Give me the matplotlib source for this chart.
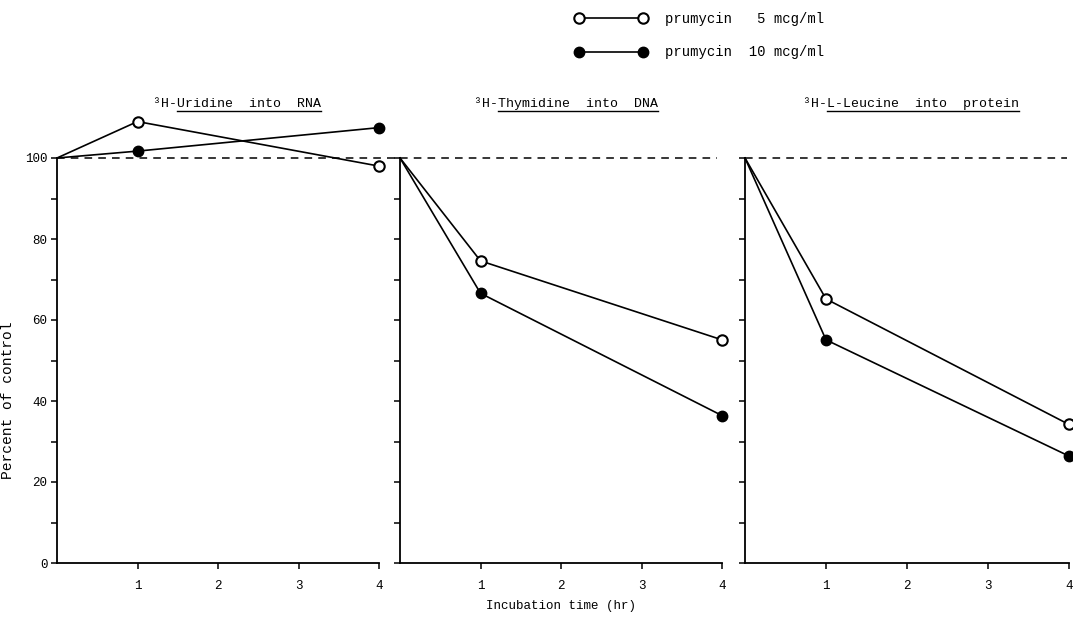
import matplotlib
matplotlib.use("Agg")
import matplotlib.pyplot as plt
from matplotlib.lines import Line2D

plt.rcParams['font.family'] = ['Liberation Mono', 'DejaVu Sans Mono']

# Data (percent of control)
hours = [0, 1, 4]
panel_prefix = ["³H-", "³H-", "³H-"]
panel_names = ["Uridine  into  RNA", "Thymidine  into  DNA", "L-Leucine  into  protein"]
low_dose = [  # prumycin 5 mcg/ml
    [100, 109, 98],
    [100, 74.6, 55.1],
    [100, 65.2, 34.2],
]
high_dose = [  # prumycin 10 mcg/ml
    [100, 101.7, 107.5],
    [100, 66.6, 36.4],
    [100, 55.1, 26.4],
]
legend_labels = ["prumycin   5 mcg/ml", "prumycin  10 mcg/ml"]
x_ticks = [1, 2, 3, 4]
y_ticks = [0, 20, 40, 60, 80, 100]
y_minor = [10, 30, 50, 70, 90]

W, H = 1073, 621
fig = plt.figure(figsize=(W / 100, H / 100), dpi=100)

lefts = [57, 400, 745]
widths = [322, 322, 324]
bottom = 1 - 563 / H
height = 115 * 4.05 / H
title_x = [2.24, 2.06, 2.05]
dash_end = [4.24, 3.94, 3.98]

axes = []
for i in range(3):
    ax = fig.add_axes([lefts[i] / W, bottom, widths[i] / W, height])
    ax.set_xlim(0, 4)
    ax.set_ylim(0, 115)
    for s in ("top", "right"):
        ax.spines[s].set_visible(False)
    ax.spines["left"].set_bounds(0, 100)
    ax.spines["bottom"].set_bounds(0, 4)
    ax.spines["left"].set_linewidth(1.3)
    ax.spines["bottom"].set_linewidth(1.3)
    ax.set_xticks(x_ticks)
    ax.set_yticks(y_ticks)
    ax.set_yticks(y_minor, minor=True)
    ax.tick_params(which="both", direction="out", length=4, width=1.1,
                   labelsize=9, pad=3)
    if i > 0:
        ax.set_yticklabels([])
    ax.tick_params(axis="x", pad=8)

    # control reference line
    ax.plot([0, dash_end[i]], [100, 100], color="black", lw=1.1,
            ls=(0, (5, 4)), clip_on=False)

    # no marker at time 0 (the control point)
    ax.plot(hours, low_dose[i], color="black", lw=1.2, marker="o",
            markevery=[1, 2], ms=7.5, mfc="white", mec="black", mew=1.5,
            clip_on=False, zorder=3)
    ax.plot(hours, high_dose[i], color="black", lw=1.2, marker="o",
            markevery=[1, 2], ms=7.5, mfc="black", mec="black",
            clip_on=False, zorder=3)
    axes.append(ax)

axes[0].set_ylabel("Percent of control", fontsize=10.5)
axes[0].yaxis.set_label_coords((15 - 57) / 322, (563 - 400) / (115 * 4.05))
axes[1].set_xlabel("Incubation time (hr)", fontsize=9, labelpad=6)

# panel titles with underlined names
titles = []
for i, ax in enumerate(axes):
    t = ax.text(title_x[i], 112.5, panel_prefix[i] + panel_names[i],
                ha="center", va="baseline", fontsize=9.5)
    titles.append(t)

fig.canvas.draw()
renderer = fig.canvas.get_renderer()
for i, ax in enumerate(axes):
    bb = titles[i].get_window_extent(renderer)
    tmp = ax.text(0, 0, panel_prefix[i], fontsize=9.5)
    pw = tmp.get_window_extent(renderer).width
    tmp.remove()
    inv = ax.transData.inverted()
    x0, y0 = inv.transform((bb.x0 + pw, bb.y0 - 1))
    x1, _ = inv.transform((bb.x1, bb.y0 - 1))
    ax.plot([x0, x1], [y0, y0], color="black", lw=1.0, clip_on=False)

# legend
handles = [
    Line2D([], [], color="black", lw=1.2, marker="o", ms=7.5, mfc="white",
           mec="black", mew=1.5),
    Line2D([], [], color="black", lw=1.2, marker="o", ms=7.5, mfc="black",
           mec="black"),
]
fig.legend(handles, legend_labels, loc="upper left",
           bbox_to_anchor=(575 / W, 1 - 12 / H), numpoints=2,
           handlelength=5.2, frameon=False, fontsize=10, labelspacing=1.4,
           handletextpad=1.3, borderpad=0, borderaxespad=0)

plt.savefig("out.png", dpi=100)
